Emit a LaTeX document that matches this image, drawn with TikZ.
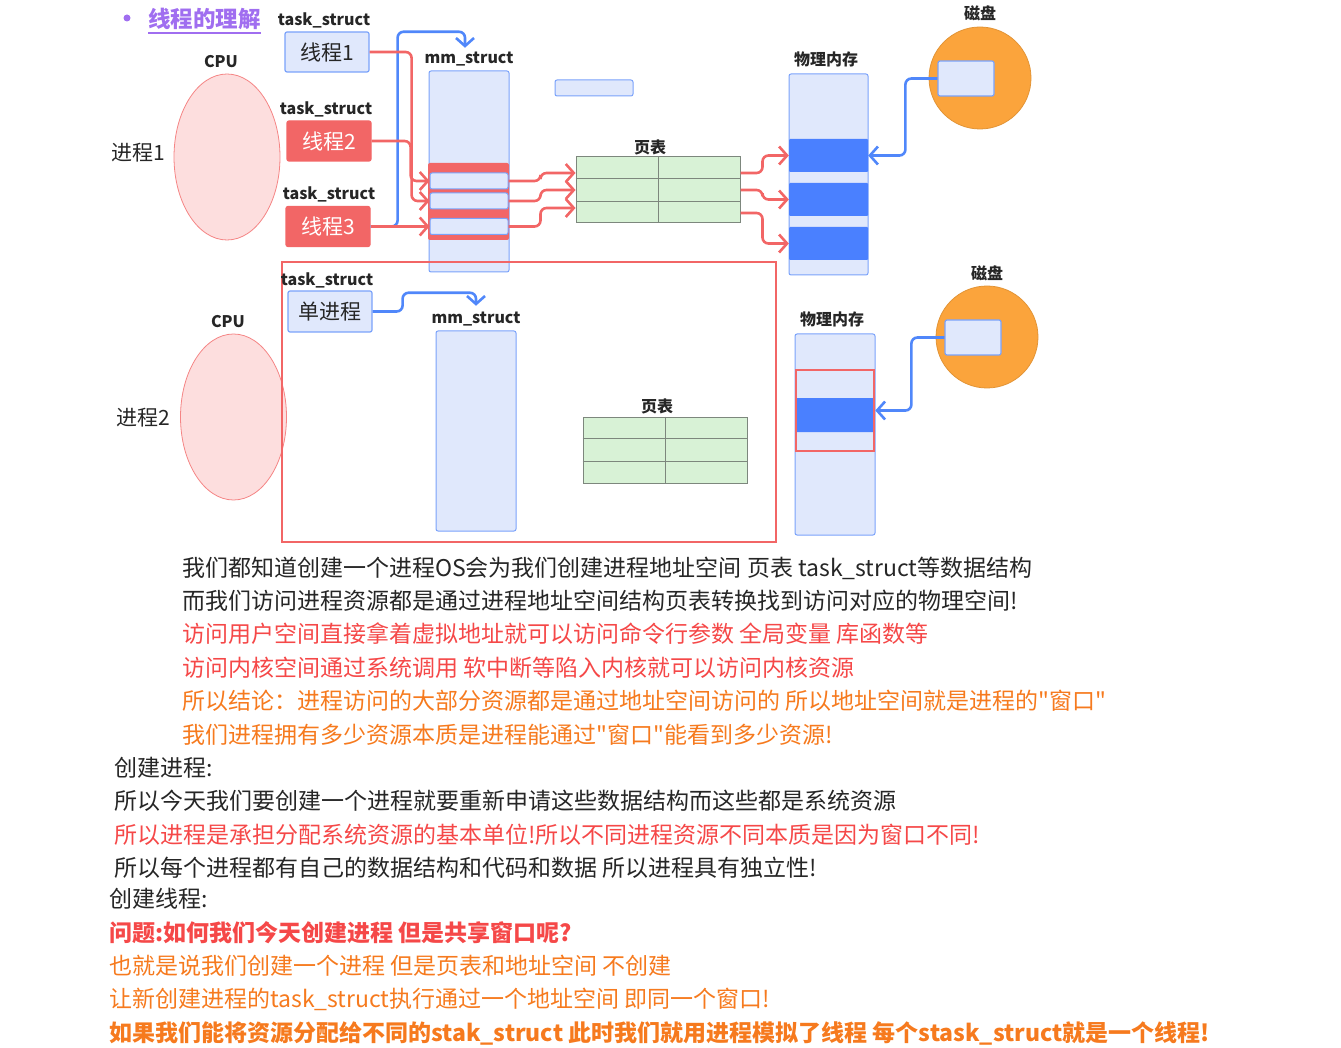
\documentclass[tikz,border=0pt]{standalone}
\usepackage{fontspec}
\setmainfont{Noto Sans CJK SC}[Ligatures=TeXOff]
\usetikzlibrary{arrows.meta,positioning,calc,shapes.geometric}
\definecolor{memBlue}{RGB}{224,232,252}
\definecolor{edgeBlue}{RGB}{122,162,250}
\definecolor{deepBlue}{RGB}{74,128,255}
\definecolor{lineBlue}{RGB}{80,135,250}
\definecolor{softRed}{RGB}{242,102,102}
\definecolor{pinkFill}{RGB}{253,222,222}
\definecolor{tableGreen}{RGB}{216,242,214}
\definecolor{tableEdge}{RGB}{125,135,125}
\definecolor{diskOrange}{RGB}{251,164,60}
\definecolor{titlePurple}{RGB}{160,110,240}
\definecolor{textDark}{RGB}{38,38,38}
\definecolor{textRed}{RGB}{245,72,72}
\definecolor{textOrange}{RGB}{246,122,30}
\newcommand{\px}[1]{\fontsize{#1}{#1}\selectfont}

\begin{document}
\begin{tikzpicture}[x=1pt,y=-1pt,
    lbl/.style={font=\px{16}\bfseries,text=textDark,inner sep=0pt},
    box/.style={draw=edgeBlue,fill=memBlue,line width=1.2pt,rounded corners=2pt,minimum width=84pt,minimum height=40pt,font=\px{21},text=textDark,inner sep=0pt},
    hotbox/.style={box,draw=softRed,fill=softRed,text=white},
    column/.style={draw=edgeBlue,fill=memBlue,line width=1pt,rounded corners=2pt,minimum width=80pt,minimum height=201pt,inner sep=0pt},
    slot/.style={draw=edgeBlue,fill=memBlue,line width=1pt,rounded corners=2pt,minimum width=78pt,minimum height=16pt,inner sep=0pt},
    block/.style={fill=deepBlue,rounded corners=1pt,minimum width=79pt,minimum height=33pt,inner sep=0pt},
    ptable/.style={draw=tableEdge,fill=tableGreen,line width=1pt,minimum width=164pt,minimum height=66pt,inner sep=0pt},
    cpu/.style={ellipse,draw=softRed!80,fill=pinkFill,line width=0.8pt,minimum width=106pt,minimum height=166pt,inner sep=0pt},
    disk/.style={circle,draw=diskOrange!90!black,fill=diskOrange,line width=0.8pt,minimum size=102pt,inner sep=0pt},
    diskbox/.style={draw=edgeBlue,fill=memBlue,line width=1.2pt,rounded corners=2pt,minimum width=56pt,minimum height=35pt,inner sep=0pt},
    redarrow/.style={draw=softRed,line width=2.6pt,rounded corners=6pt,-{Straight Barb[length=8pt,width=18pt]}},
    bluearrow/.style={draw=lineBlue,line width=2.6pt,rounded corners=6pt,-{Straight Barb[length=8pt,width=18pt]}},
    blueline/.style={draw=lineBlue,line width=2.6pt,rounded corners=6pt},
    note/.style={anchor=base west,font=\px{23},inner sep=0pt}
  ]
  \useasboundingbox (0,0) rectangle (1341,1048);
  % title
  \node[circle,fill=titlePurple,minimum size=7pt,inner sep=0pt] (dot) at (127,18) {};
  \node[font=\px{22.5}\bfseries,text=titlePurple,anchor=west,inner sep=0pt] (title) at (148,19) {线程的理解};
  \draw[titlePurple,line width=1.2pt] ($(title.south west)+(0,3)$) -- ($(title.south east)+(0,3)$);

  % process 1 with three threads
  \node[lbl] (cpu1lbl) at (221,62) {CPU};
  \node[cpu] (cpu1) at (227,157) {};
  \node[font=\px{21},text=textDark] (p1) at (138,153) {进程1};
  \node[lbl] (ts1) at (324,20) {task\_struct};
  \node[lbl] (ts2) at (326,109) {task\_struct};
  \node[lbl] (ts3) at (329,194) {task\_struct};
  \node[box] (t1) at (327,52) {线程1};
  \node[hotbox] (t2) at (329,141) {线程2};
  \node[hotbox] (t3) at (328,226.5) {线程3};

  \node[lbl] (mmlbl) at (469,59) {mm\_struct};
  \node[column] (mm1) at (469,171.5) {};
  \node[fill=softRed,rounded corners=2pt,minimum width=81pt,minimum height=77pt,inner sep=0pt] (band) at (468.5,201.5) {};
  \node[slot] (mmA) at (469,181) {};
  \node[slot] (mmB) at (469,201) {};
  \node[slot] (mmC) at (469,226.5) {};
  \node[slot] (spare) at (594,88) {};

  \node[lbl] (ptlbl) at (650,147) {页表};
  \node[ptable] (ptab) at (658,190) {};
  \draw[tableEdge,line width=1pt] (ptab.north) -- (ptab.south)
    ($(ptab.north west)!1/3!(ptab.south west)$) -- ($(ptab.north east)!1/3!(ptab.south east)$)
    ($(ptab.north west)!2/3!(ptab.south west)$) -- ($(ptab.north east)!2/3!(ptab.south east)$);

  \node[lbl] (physlbl) at (826,59) {物理内存};
  \node[column,minimum width=79pt] (phys1) at (828.5,174.5) {};
  \node[block] (blk1) at (828.5,155.5) {};
  \node[block] (blk2) at (828.5,199.5) {};
  \node[block] (blk3) at (828.5,243.5) {};

  \node[lbl] (disklbl1) at (980,13) {磁盘};
  \node[disk] (disk1) at (980,78) {};
  \node[diskbox] (dbox1) at (966,78.5) {};

  % threads share one mm_struct
  \draw[blueline] (t1.east) -- ++(28,0);
  \draw[blueline] (t2.east) -- ++(26,0);
  \draw[bluearrow] (t3.east) -- ++(27,0) |- ($(mmlbl.north)+(-4,-20)$) -- ($(mmlbl.north)+(-4,-4)$);
  \draw[redarrow] (t1.east) -- ++(42,0) |- (mmB.west);
  \draw[redarrow] (t2.east) -- ++(39,0) |- (mmA.west);
  \draw[redarrow] (t3.east) -- (t3.east -| mmC.west);
  \draw[redarrow] (mmA.east) -- ++(32,0) |- ($(ptab.west)+(0,-17)$);
  \draw[redarrow] (mmB.east) -- ++(32,0) |- (ptab.west);
  \draw[redarrow] (mmC.east) -- ++(32,0) |- ($(ptab.west)+(0,18)$);
  \draw[redarrow] ($(ptab.east)+(0,-17)$) -- ++(22,0) |- (blk1.west);
  \draw[redarrow] (ptab.east) -- ++(22,0) |- (blk2.west);
  \draw[redarrow] ($(ptab.east)+(0,23)$) -- ++(22,0) |- (blk3.west);
  \draw[bluearrow] (dbox1.west) -- ++(-32,0) |- (blk1.east);

  % process 2, single thread
  \node[lbl] (cpu2lbl) at (228,322) {CPU};
  \node[cpu] (cpu2) at (233.5,417) {};
  \node[font=\px{21},text=textDark] (p2) at (143,418) {进程2};
  \node[draw=softRed,line width=2.6pt,minimum width=494pt,minimum height=280pt,inner sep=0pt] (win) at (529,402) {};
  \node[lbl] (ts4) at (327,280) {task\_struct};
  \node[box,minimum height=41pt] (sp) at (330,311.5) {单进程};
  \node[lbl] (mmlbl2) at (476,319) {mm\_struct};
  \node[column,minimum height=200pt] (mm2) at (476,431) {};
  \node[lbl] (ptlbl2) at (657,406) {页表};
  \node[ptable] (ptab2) at (665,450) {};
  \draw[tableEdge,line width=1pt] (ptab2.north) -- (ptab2.south)
    ($(ptab2.north west)!1/3!(ptab2.south west)$) -- ($(ptab2.north east)!1/3!(ptab2.south east)$)
    ($(ptab2.north west)!2/3!(ptab2.south west)$) -- ($(ptab2.north east)!2/3!(ptab2.south east)$);
  \draw[bluearrow] (sp.east) -- ++(30,0) |- ($(mmlbl2.north)+(0,-19)$) -- ($(mmlbl2.north)+(0,-6)$);

  \node[lbl] (physlbl2) at (832,319) {物理内存};
  \node[column] (phys2) at (835,434.5) {};
  \node[block,minimum width=78pt,minimum height=34pt] (blk4) at (835,415) {};
  \node[draw=softRed,line width=2.6pt,minimum width=78pt,minimum height=81pt,inner sep=0pt] (sel) at (835,410.5) {};
  \node[lbl] (disklbl2) at (987,273) {磁盘};
  \node[disk] (disk2) at (987,337) {};
  \node[diskbox] (dbox2) at (973,337.5) {};
  \draw[bluearrow] (dbox2.west) -- ++(-33,0) |- (sel.east);

  % notes
  \node[note,text=textDark] (n1) at (182,576) {我们都知道创建一个进程OS会为我们创建进程地址空间 页表 task\_struct等数据结构};
  \node[note,text=textDark] (n2) at (182,609) {而我们访问进程资源都是通过进程地址空间结构页表转换找到访问对应的物理空间!};
  \node[note,text=textRed] (n3) at (182,642) {访问用户空间直接拿着虚拟地址就可以访问命令行参数 全局变量 库函数等};
  \node[note,text=textRed] (n4) at (182,676) {访问内核空间通过系统调用 软中断等陷入内核就可以访问内核资源};
  \node[note,text=textOrange] (n5) at (182,709) {所以结论：进程访问的大部分资源都是通过地址空间访问的 所以地址空间就是进程的"窗口"};
  \node[note,text=textOrange] (n6) at (182,743) {我们进程拥有多少资源本质是进程能通过"窗口"能看到多少资源!};
  \node[note,text=textDark] (n7) at (114,776) {创建进程:};
  \node[note,text=textDark] (n8) at (114,809) {所以今天我们要创建一个进程就要重新申请这些数据结构而这些都是系统资源};
  \node[note,text=textRed] (n9) at (114,843) {所以进程是承担分配系统资源的基本单位!所以不同进程资源不同本质是因为窗口不同!};
  \node[note,text=textDark] (n10) at (114,876) {所以每个进程都有自己的数据结构和代码和数据 所以进程具有独立性!};
  \node[note,text=textDark] (n11) at (109,907) {创建线程:};
  \node[note,text=textRed,font=\px{23}\bfseries] (n12) at (109,941) {问题:如何我们今天创建进程 但是共享窗口呢?};
  \node[note,text=textOrange] (n13) at (109,974) {也就是说我们创建一个进程 但是页表和地址空间 不创建};
  \node[note,text=textOrange] (n14) at (109,1007) {让新创建进程的task\_struct执行通过一个地址空间 即同一个窗口!};
  \node[note,text=textOrange,font=\px{23}\bfseries] (n15) at (109,1041) {如果我们能将资源分配给不同的stak\_struct 此时我们就用进程模拟了线程 每个stask\_struct就是一个线程!};
\end{tikzpicture}
\end{document}
